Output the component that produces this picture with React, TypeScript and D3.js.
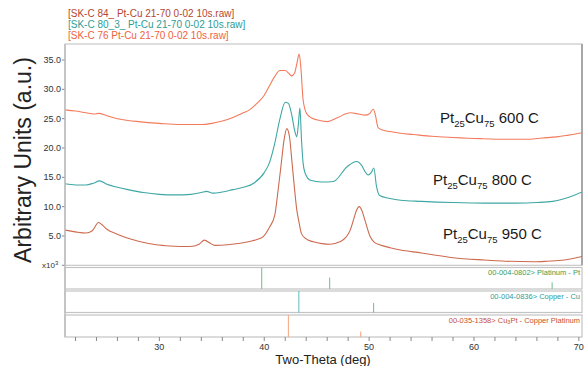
import React from "react";
import * as d3 from "d3";

const legendLabels = [
  "[SK-C 84_ Pt-Cu 21-70 0-02 10s.raw]",
  "[SK-C 80_3_ Pt-Cu 21-70 0-02 10s.raw]",
  "[SK-C 76 Pt-Cu 21-70 0-02 10s.raw]",
];

const yTicks = [5, 10, 15, 20, 25, 30, 35];
const xTicks = [30, 40, 50, 60, 70];
const xMinorTicks = d3.range(22, 71, 2);

const s600: [number, number][] = [
  [21, 26.5], [22, 26.3], [23, 26.0], [23.8, 25.8], [24.2, 25.9], [25, 25.5], [26, 25.0], [27, 24.7],
  [28, 24.5], [30, 24.2], [32, 24.0], [34, 24.0], [35, 24.2], [36, 24.6], [37, 25.2], [38, 26.0],
  [38.6, 26.5], [39.3, 27.6], [40, 29.0], [40.5, 30.6], [41, 32.2], [41.5, 33.2], [42, 33.2],
  [42.3, 32.8], [42.6, 32.3], [42.9, 32.8], [43.1, 34.3], [43.33, 36.0], [43.5, 33.5], [43.7, 28.3],
  [44.0, 26.0], [44.35, 25.3], [45, 24.8], [46, 24.5], [47, 25.2], [48.2, 26.0], [49, 25.8],
  [49.6, 25.6], [50.0, 25.8], [50.4, 26.6], [50.6, 25.6], [50.85, 23.5], [51.2, 23.1], [52, 22.8],
  [53, 22.5], [54.2, 22.3], [56, 22.0], [58, 21.8], [60.6, 21.6], [63, 21.5], [65.3, 21.5],
  [66.5, 21.7], [67.9, 21.9], [69, 22.2], [70.3, 22.6],
];

const s800: [number, number][] = [
  [21, 13.9], [22, 13.7], [23, 13.7], [23.7, 14.0], [24.3, 14.4], [25, 13.8], [26, 13.3], [27, 12.9],
  [28.5, 12.4], [30, 12.1], [31.5, 12.0], [33, 12.1], [34, 12.4], [34.5, 12.6], [35.1, 12.3],
  [36, 12.5], [37, 12.9], [38, 13.3], [39, 14.0], [40, 15.8], [40.5, 17.5], [41, 20.8], [41.5, 25.0],
  [42, 27.8], [42.3, 27.6], [42.6, 25.8], [42.9, 23.0], [43.1, 21.9], [43.25, 24.0], [43.4, 26.8],
  [43.55, 21.5], [43.7, 17.5], [43.9, 15.7], [44.4, 14.5], [45.5, 14.2], [46.6, 14.3], [47.9, 16.8],
  [48.8, 17.7], [49.3, 17.0], [49.6, 16.0], [49.9, 15.4], [50.2, 15.8], [50.45, 16.6], [50.7, 13.5],
  [51, 11.9], [52, 11.4], [53, 11.1], [55, 10.9], [58, 10.7], [61, 10.6], [64, 10.6], [66, 10.7],
  [67.5, 10.9], [68.5, 11.3], [69.5, 11.9], [70.3, 12.5],
];

const s950: [number, number][] = [
  [21, 6.0], [22, 5.7], [23, 5.5], [23.6, 5.9], [24.2, 7.3], [24.6, 6.8], [25, 6.15], [26, 5.3],
  [27, 4.6], [28, 4.1], [29.7, 3.5], [31, 3.3], [32.9, 3.2], [33.8, 3.6], [34.3, 4.3], [34.8, 3.8],
  [35.3, 3.4], [36.5, 3.5], [37.7, 3.75], [38.7, 4.1], [39.3, 4.4], [39.9, 4.9], [40.5, 6.5],
  [41, 8.5], [41.3, 12.5], [41.6, 17.0], [41.9, 21.5], [42.15, 23.3], [42.4, 22.0], [42.65, 17.5],
  [42.9, 12.8], [43.1, 9.5], [43.3, 7.5], [43.55, 5.4], [44, 4.5], [44.7, 4.0], [45.5, 3.7],
  [46.3, 3.6], [47.2, 4.0], [47.8, 4.8], [48.2, 6.0], [48.5, 7.7], [48.8, 9.4], [49.05, 10.0],
  [49.3, 9.4], [49.6, 7.7], [50.1, 4.9], [50.5, 3.9], [51, 3.5], [52, 3.0], [53, 2.6], [55, 2.1],
  [56.2, 1.75], [58, 1.3], [61, 0.9], [63, 0.7], [65.7, 0.6], [67, 0.7], [68.6, 0.9], [70.3, 1.5],
];

const refPt: [number, number][] = [[39.76, 100], [46.24, 53], [67.45, 31]];
const refCu: [number, number][] = [[43.3, 100], [50.43, 44]];
const refCu3Pt: [number, number][] = [[42.3, 100], [49.2, 25]];

const refLabels = [
  "00-004-0802> Platinum - Pt",
  "00-004-0836> Copper - Cu",
  "00-035-1358> Cu3Pt - Copper Platinum",
];

const annotTemps = ["600 C", "800 C", "950 C"];

export default function App() {
  const W = 584, H = 366;
  const left = 65, right = 582, top = 44, bottom = 265.3;
  const x = d3.scaleLinear().domain([21, 70.3]).range([left, right]);
  const y = d3.scaleLinear().domain([0, 37.73]).range([bottom, top]);
  const line = d3
    .line<[number, number]>()
    .x((d) => x(d[0]))
    .y((d) => y(d[1]))
    .curve(d3.curveMonotoneX);

  const font = "Arial, 'Liberation Sans', sans-serif";
  const series = [
    { data: s600, color: "#f47a5c" },
    { data: s800, color: "#3ea7a4" },
    { data: s950, color: "#cc6a4e" },
  ];
  const legendColors = ["#b5472f", "#2e9c97", "#f0623e"];

  const panels = [
    { y0: 267.5, y1: 289, refs: refPt, stick: "#6cc08a", label: refLabels[0], lc: "#3c9c50" },
    { y0: 291, y1: 312.5, refs: refCu, stick: "#5cbdbb", label: refLabels[1], lc: "#2f9c99" },
    { y0: 315, y1: 337, refs: refCu3Pt, stick: "#f5a27e", label: refLabels[2], lc: "#c4512e" },
  ];

  const annots = [
    { x: 440, y: 122.5, t: annotTemps[0] },
    { x: 433, y: 185, t: annotTemps[1] },
    { x: 443, y: 238.5, t: annotTemps[2] },
  ];

  return (
    <svg
      width={W}
      height={H}
      style={{ position: "absolute", left: 0, top: 0, background: "#fff" }}
      fontFamily={font}
    >
      {legendLabels.map((t, i) => (
        <text key={i} x={68} y={17 + i * 11} fontSize={10} fill={legendColors[i]}>
          {t}
        </text>
      ))}

      <rect x={left} y={top} width={right - left} height={bottom - top} fill="none" stroke="#c9c9c9" strokeWidth={1.2} />
      <line x1={right} x2={right} y1={top} y2={bottom} stroke="#a8a8a8" strokeWidth={2} />

      {yTicks.map((v) => (
        <g key={v}>
          <line x1={left - 3} x2={left} y1={y(v)} y2={y(v)} stroke="#888" />
          <text x={61} y={y(v) + 3} fontSize={9} textAnchor="end" fill="#333">
            {v.toFixed(1)}
          </text>
        </g>
      ))}
      <text x={42} y={268} fontSize={8} fill="#333">
        x10<tspan dy={-3} fontSize={6}>3</tspan>
      </text>
      <line x1={left - 3} x2={left} y1={bottom} y2={bottom} stroke="#888" />

      <text
        transform={`translate(31,160) rotate(-90)`}
        textAnchor="middle"
        fontSize={23}
        fill="#222"
      >
        Arbitrary Units (a.u.)
      </text>

      <defs>
        <clipPath id="mainclip">
          <rect x={left} y={top} width={right - left} height={bottom - top} />
        </clipPath>
      </defs>
      <g clipPath="url(#mainclip)">
        {series.map((s, i) => (
          <path key={i} d={line(s.data) || ""} fill="none" stroke={s.color} strokeWidth={1.1} />
        ))}
      </g>

      {annots.map((a, i) => (
        <text key={i} x={a.x} y={a.y} fontSize={15} fill="#1a1a1a">
          Pt<tspan dy={4} fontSize={9.5}>25</tspan>
          <tspan dy={-4}>Cu</tspan>
          <tspan dy={4} fontSize={9.5}>75</tspan>
          <tspan dy={-4}> {a.t}</tspan>
        </text>
      ))}

      {panels.map((p, i) => {
        const hs = d3.scaleLinear().domain([0, 100]).range([p.y1, p.y0]);
        return (
          <g key={i}>
            <rect x={left} y={p.y0} width={right - left} height={p.y1 - p.y0} fill="none" stroke="#c4c4c4" strokeWidth={1.2} />
            {p.refs.map((r, j) => (
              <line key={j} x1={x(r[0])} x2={x(r[0])} y1={p.y1} y2={hs(r[1])} stroke={p.stick} strokeWidth={1} />
            ))}
            <text x={580} y={p.y0 + 7.5} fontSize={7.5} textAnchor="end" fill={p.lc}>
              {i === 2 ? (
                <>
                  00-035-1358&gt; Cu<tspan dy={1.5} fontSize={5.5}>3</tspan>
                  <tspan dy={-1.5}>Pt - Copper Platinum</tspan>
                </>
              ) : (
                p.label
              )}
            </text>
          </g>
        );
      })}
      <line x1={left} x2={left} y1={top} y2={337} stroke="#bdbdbd" strokeWidth={1.5} />

      {xMinorTicks.map((v) => (
        <line key={v} x1={x(v)} x2={x(v)} y1={337} y2={341} stroke="#888" />
      ))}
      {xTicks.map((v) => (
        <text key={v} x={x(v)} y={350} fontSize={9} textAnchor="middle" fill="#333">
          {v}
        </text>
      ))}
      <text x={323} y={364} fontSize={13} textAnchor="middle" fill="#222">
        Two-Theta (deg)
      </text>
    </svg>
  );
}
